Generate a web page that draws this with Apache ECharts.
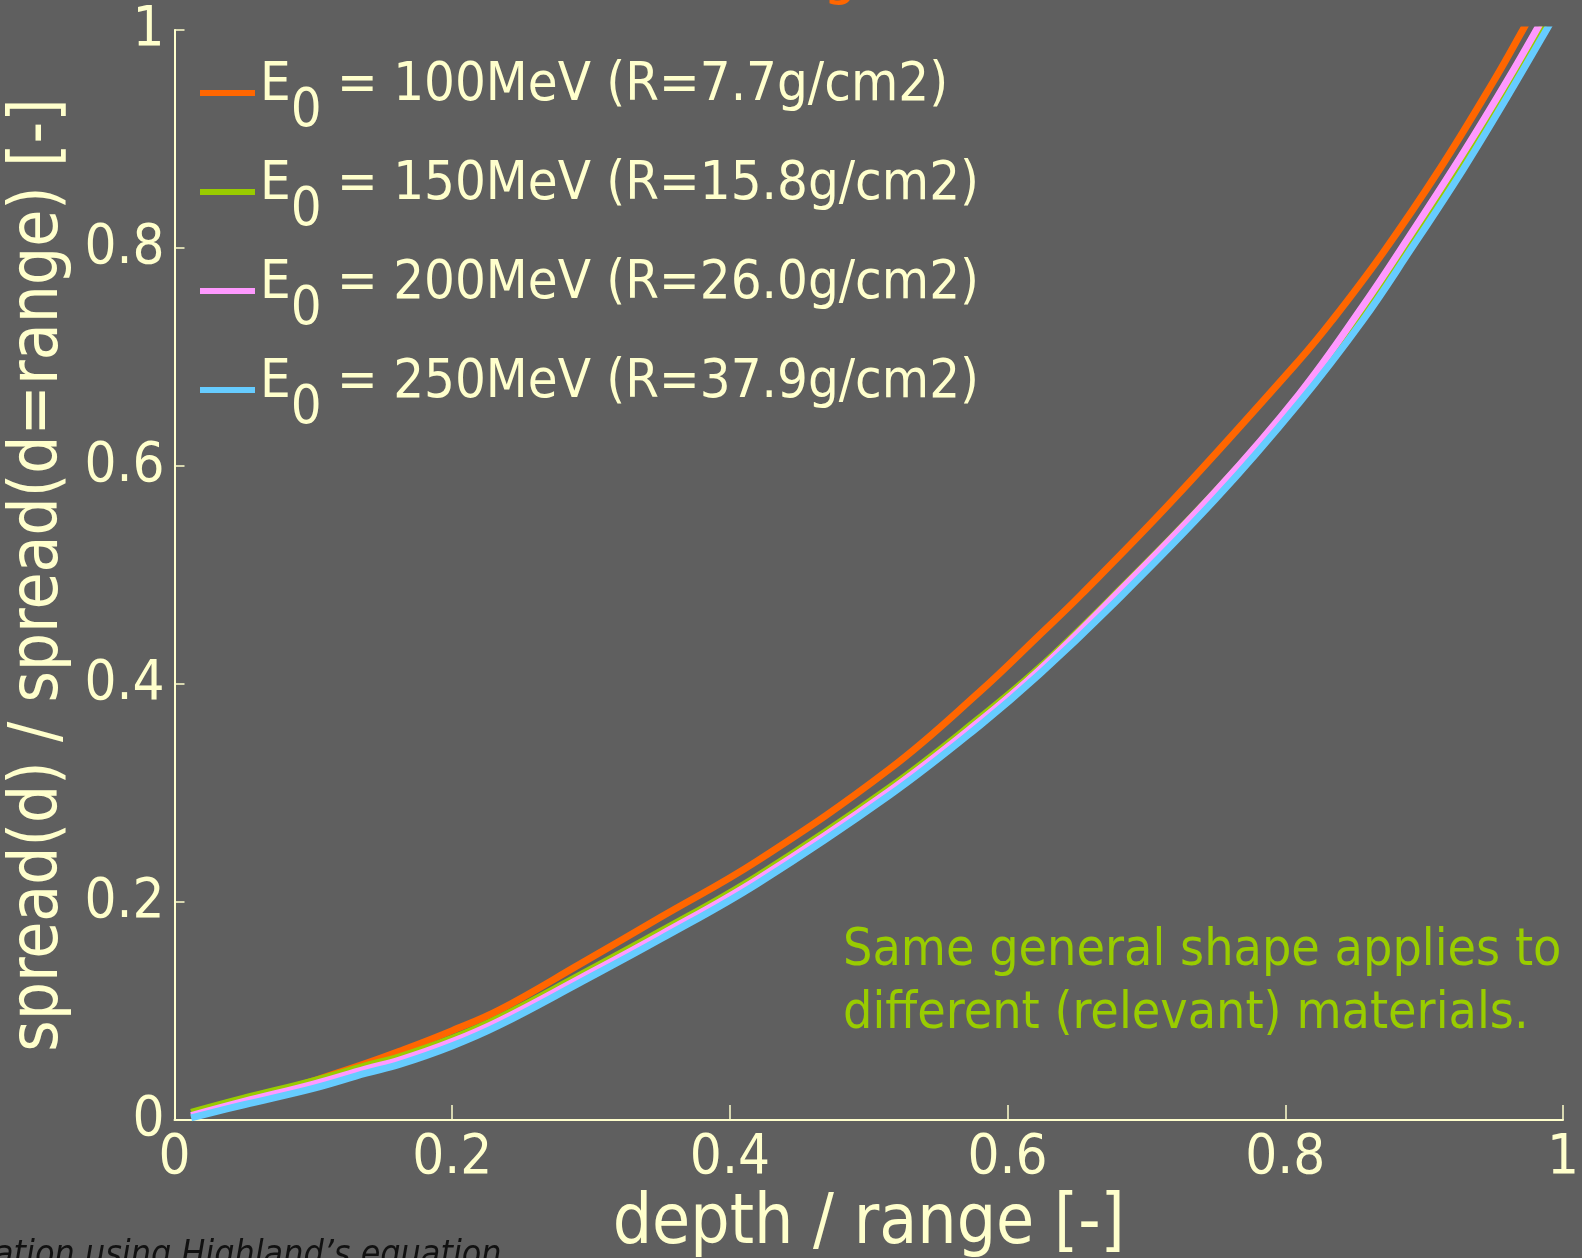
<!DOCTYPE html>
<html>
<head>
<meta charset="utf-8">
<script src="https://cdn.jsdelivr.net/npm/echarts@6/dist/echarts.min.js"></script>
<style>
html,body{margin:0;padding:0;background:#5f5f5f;}
#chart{width:1582px;height:1258px;}
</style>
</head>
<body>
<div id="chart"></div>
<script>
// ---- data ----
const seriesNames = ['E0 = 100MeV (R=7.7g/cm2)', 'E0 = 150MeV (R=15.8g/cm2)', 'E0 = 200MeV (R=26.0g/cm2)', 'E0 = 250MeV (R=37.9g/cm2)'];
const seriesColors = ['#ff6600', '#99cc00', '#ff99ff', '#66ccff'];

const orangeX = [0.063, 0.10, 0.138, 0.162, 0.20, 0.234, 0.292, 0.35, 0.42, 0.515, 0.58, 0.623, 0.653, 0.72, 0.81, 0.834, 0.87, 0.911, 0.95, 0.971, 0.985];
const orangeY = [0.021, 0.036, 0.052, 0.063, 0.082, 0.101, 0.143, 0.186, 0.238, 0.322, 0.393, 0.445, 0.482, 0.570, 0.697, 0.734, 0.795, 0.872, 0.953, 1.000, 1.032];

const commonX = [0.012, 0.05, 0.10, 0.138, 0.162, 0.20, 0.234, 0.292, 0.35, 0.42, 0.515, 0.58, 0.623, 0.675, 0.75, 0.81, 0.856, 0.89, 0.928, 0.96, 0.988, 1.0];
const greenY  = [0.007, 0.020, 0.036, 0.050, 0.058, 0.075, 0.094, 0.133, 0.173, 0.224, 0.305, 0.369, 0.415, 0.479, 0.577, 0.664, 0.742, 0.806, 0.881, 0.947, 1.009, 1.035];
const pinkY   = [0.004, 0.017, 0.033, 0.047, 0.055, 0.072, 0.091, 0.130, 0.170, 0.221, 0.302, 0.366, 0.413, 0.478, 0.577, 0.666, 0.747, 0.812, 0.887, 0.954, 1.016, 1.043];
const blueY   = [0.002, 0.014, 0.029, 0.043, 0.051, 0.068, 0.087, 0.126, 0.166, 0.217, 0.298, 0.362, 0.409, 0.472, 0.570, 0.658, 0.734, 0.798, 0.872, 0.939, 1.000, 1.027];

const xTitle = 'depth / range [-]';
const yTitle = 'spread(d) / spread(d=range) [-]';
const noteText = 'Same general shape applies to\ndifferent (relevant) materials.';
const footText = 'ation using Highland\u2019s equation';

// ---- build ----
const FONT = '"DejaVu Sans Condensed", "DejaVu Sans", sans-serif';
const CREAM = '#ffffcc';
function pairs(xs, ys) { return xs.map((x, i) => [x, ys[i]]); }
const seriesData = [pairs(orangeX, orangeY), pairs(commonX, greenY), pairs(commonX, pinkY), pairs(commonX, blueY)];

const chart = echarts.init(document.getElementById('chart'));
chart.setOption({
  backgroundColor: '#5f5f5f',
  animation: false,
  grid: { left: 174.5, right: 19, top: 30, bottom: 138, containLabel: false, outerBoundsMode: 'none' },
  legend: {
    orient: 'vertical', left: 195, top: 54, icon: 'rect', itemWidth: 55, itemHeight: 6,
    itemGap: 19, selectedMode: false,
    data: seriesNames,
    formatter: function (name) { return '{a|E}{s|0}{a|' + name.slice(2) + '}'; },
    textStyle: {
      color: CREAM, fontFamily: FONT, fontSize: 54,
      rich: {
        a: { color: CREAM, fontFamily: FONT, fontSize: 54, padding: [0, 0, 14, 0] },
        s: { color: CREAM, fontFamily: FONT, fontSize: 54, padding: [38, 0, 0, 0] }
      }
    }
  },
  xAxis: {
    type: 'value', min: 0, max: 1, interval: 0.2,
    name: xTitle, nameLocation: 'middle', nameGap: 64,
    nameTextStyle: { color: CREAM, fontFamily: FONT, fontSize: 69 },
    axisLine: { lineStyle: { color: CREAM, width: 2 } },
    axisTick: { inside: true, length: 15, lineStyle: { color: CREAM, width: 1.5 } },
    axisLabel: { color: CREAM, fontFamily: FONT, fontSize: 56, margin: 10 },
    splitLine: { show: false }
  },
  yAxis: {
    type: 'value', min: 0, max: 1, interval: 0.2,
    name: yTitle, nameLocation: 'middle', nameGap: 67, nameRotate: 90,
    nameTextStyle: { color: CREAM, fontFamily: FONT, fontSize: 67 },
    axisLine: { lineStyle: { color: CREAM, width: 2 } },
    axisTick: { inside: true, length: 10, lineStyle: { color: CREAM, width: 1.5 } },
    axisLabel: { color: CREAM, fontFamily: FONT, fontSize: 56, margin: 10 },
    splitLine: { show: false }
  },
  series: seriesNames.map((n, i) => ({
    name: n, type: 'line', data: seriesData[i], smooth: 0.4, showSymbol: false, clip: true,
    lineStyle: { color: seriesColors[i], width: 7 }, itemStyle: { color: seriesColors[i] }, z: 2 + i
  })),
  graphic: [
    { type: 'text', left: 843, top: 920, silent: true,
      style: { text: noteText, fill: '#99cc00', font: '51.5px ' + FONT, lineHeight: 63 } },
    { type: 'text', left: -6, top: 1238, silent: true,
      style: { text: footText, fill: '#111111', font: 'italic 35.5px ' + FONT } },
    { type: 'text', left: 823, top: -54, silent: true,
      style: { text: 'g', fill: '#ff6600', font: '60px ' + FONT } }
  ]
});
</script>
</body>
</html>
